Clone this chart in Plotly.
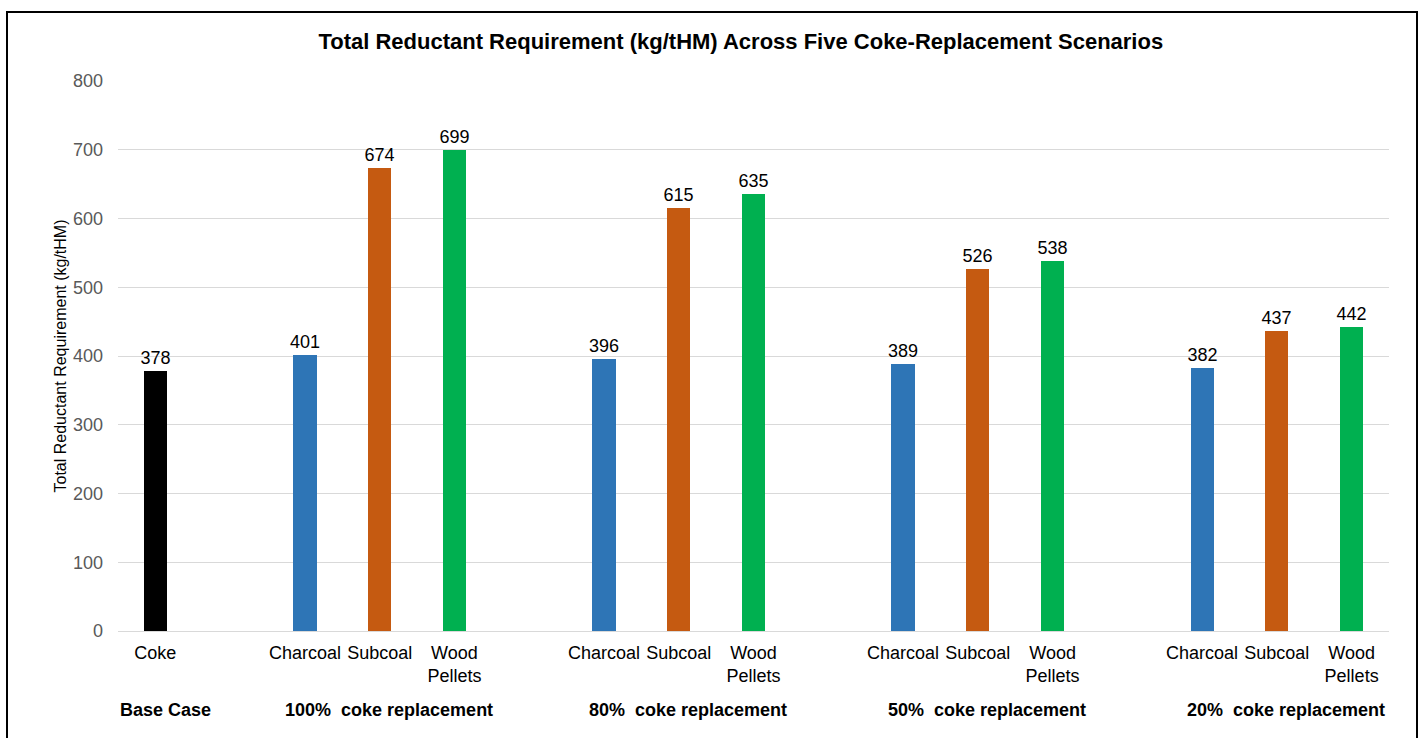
import plotly.graph_objects as go

# ---- data ----
scenarios = ["100%  coke replacement", "80%  coke replacement",
             "50%  coke replacement", "20%  coke replacement"]
base_label = "Base Case"
reductants = ["Charcoal", "Subcoal", "Wood<br>Pellets"]
coke_value = 378
charcoal = [401, 396, 389, 382]
subcoal = [674, 615, 526, 437]
wood_pellets = [699, 635, 538, 442]

colors = {"Coke": "#000000", "Charcoal": "#2E75B6",
          "Subcoal": "#C55A11", "Wood Pellets": "#00B050"}

FONT = "Liberation Sans, Arial, sans-serif"

# category slots: coke at 0, each scenario occupies 3 slots after a blank slot
pos_coke = [0]
pos_char = [4 * g + 2 for g in range(len(scenarios))]
pos_sub = [4 * g + 3 for g in range(len(scenarios))]
pos_wood = [4 * g + 4 for g in range(len(scenarios))]

fig = go.Figure()
bw = 0.31
for name, xs, ys in [("Coke", pos_coke, [coke_value]),
                     ("Charcoal", pos_char, charcoal),
                     ("Subcoal", pos_sub, subcoal),
                     ("Wood Pellets", pos_wood, wood_pellets)]:
    fig.add_trace(go.Bar(
        x=xs, y=ys, name=name, width=bw,
        marker=dict(color=colors[name], line=dict(width=0)),
        text=[str(v) for v in ys], textposition="outside",
        constraintext="none",
        textfont=dict(family=FONT, size=18, color="#000000"),
        cliponaxis=False, showlegend=False))

tickvals = pos_coke + pos_char + pos_sub + pos_wood
ticktext = ["Coke"] + [reductants[0]] * 4 + [reductants[1]] * 4 + [reductants[2]] * 4

fig.update_layout(
    width=1422, height=738,
    margin=dict(l=118, r=33, t=81, b=107),
    paper_bgcolor="white", plot_bgcolor="white",
    font=dict(family=FONT, color="#000000"),
    title=dict(text="<b>Total Reductant Requirement (kg/tHM) Across Five Coke-Replacement Scenarios</b>",
               x=0.49, xref="paper", xanchor="center",
               y=1 - 41 / 738, yref="container", yanchor="middle",
               font=dict(family=FONT, size=22, color="#000000")),
    xaxis=dict(range=[-0.5, 16.5], tickvals=tickvals, ticktext=ticktext,
               tickfont=dict(family=FONT, size=18, color="#000000"),
               ticklabelstandoff=9,
               showgrid=False, zeroline=False, showline=False, ticks=""),
    yaxis=dict(range=[0, 800], dtick=100, showgrid=True, gridcolor="#D9D9D9",
               gridwidth=1, zeroline=True, zerolinecolor="#D9D9D9", zerolinewidth=1,
               tickfont=dict(family=FONT, size=18, color="#595959"),
               ticklabelstandoff=14,
               title=dict(text="Total Reductant Requirement (kg/tHM)", standoff=2,
                          font=dict(family=FONT, size=16, color="#000000"))),
    bargap=0,
)

# group labels beneath categories
label_y = (631 - 710) / 550
fig.add_annotation(x=0, y=label_y, xref="x", yref="paper", text="<b>" + base_label + "</b>",
                   showarrow=False, xshift=10, yanchor="middle",
                   font=dict(family=FONT, size=18, color="#000000"))
for g, s in enumerate(scenarios):
    fig.add_annotation(x=pos_sub[g], y=label_y, xref="x", yref="paper",
                       text="<b>" + s + "</b>", showarrow=False, xshift=9,
                       yanchor="middle",
                       font=dict(family=FONT, size=18, color="#000000"))

# outer chart border
fig.add_shape(type="rect", xref="paper", yref="paper",
              x0=(7 - 118) / 1271, x1=(1417 - 118) / 1271,
              y0=(631 - 760) / 550, y1=(631 - 12) / 550,
              line=dict(color="#000000", width=2), fillcolor="rgba(0,0,0,0)",
              layer="above")

fig.write_html("out.html")
